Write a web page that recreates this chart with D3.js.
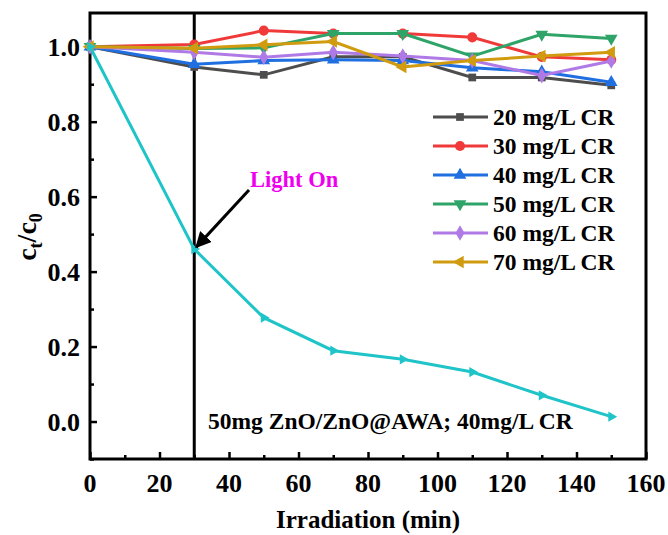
<!DOCTYPE html>
<html lang="en">
<head>
<meta charset="UTF-8">
<script src="https://cdn.jsdelivr.net/npm/d3@7/dist/d3.min.js"></script>
<style>
    body, html { margin: 0; padding: 0; background: #fff; }
    #chart { width: 668px; height: 535px; }
</style>
</head>
<body>
<div id="chart"></div>
<script>
// data
const times = [0, 30, 50, 70, 90, 110, 130, 150]
const seriesNames = ["20 mg/L CR", "30 mg/L CR", "40 mg/L CR", "50 mg/L CR", "60 mg/L CR", "70 mg/L CR"]
const c20 = [1.0, 0.946, 0.925, 0.973, 0.973, 0.918, 0.918, 0.897]
const c30 = [1.0, 1.006, 1.043, 1.035, 1.035, 1.025, 0.973, 0.965]
const c40 = [1.0, 0.953, 0.963, 0.965, 0.963, 0.944, 0.933, 0.905]
const c50 = [1.0, 0.995, 0.997, 1.035, 1.035, 0.975, 1.033, 1.022]
const c60 = [1.0, 0.985, 0.972, 0.985, 0.975, 0.963, 0.923, 0.962]
const c70 = [1.0, 0.996, 1.005, 1.014, 0.946, 0.963, 0.975, 0.985]
const cMain = [1.0, 0.46, 0.277, 0.189, 0.166, 0.132, 0.07, 0.013]
const xTicks = [0, 20, 40, 60, 80, 100, 120, 140, 160]
const yTicks = [0.0, 0.2, 0.4, 0.6, 0.8, 1.0]

const colors = ["#4d4d4d", "#f03a3a", "#1f6fe0", "#2ea468", "#b07ae6", "#d19b10"]
const mainColor = "#1fc4c8"
const serif = "'Liberation Serif', 'Times New Roman', serif"

const svg = d3.select("#chart").append("svg").attr("width", 668).attr("height", 535)

const x = d3.scaleLinear().domain([0, 160]).range([90, 646])
const y = d3.scaleLinear().domain([-0.1, 1.09]).range([459, 13])

// axes with inward ticks
svg.append("g").attr("transform", "translate(0,459)")
    .call(d3.axisTop(x).tickValues(xTicks).tickSize(7).tickFormat(""))
svg.append("g").attr("transform", "translate(0,459)")
    .call(d3.axisTop(x).tickValues(d3.range(10, 160, 20)).tickSize(4).tickFormat(""))
svg.append("g").attr("transform", "translate(90,0)")
    .call(d3.axisRight(y).tickValues(yTicks).tickSize(7).tickFormat(""))
svg.append("g").attr("transform", "translate(90,0)")
    .call(d3.axisRight(y).tickValues([-0.1, 0.1, 0.3, 0.5, 0.7, 0.9]).tickSize(4).tickFormat(""))
svg.selectAll(".tick line").attr("stroke", "#000").attr("stroke-width", 2.5)
svg.selectAll(".domain").remove()

// tick labels
svg.append("g").selectAll("text").data(xTicks).enter().append("text")
    .attr("x", d => x(d)).attr("y", 492).attr("text-anchor", "middle")
    .attr("font-family", serif).attr("font-weight", "bold").attr("font-size", 26)
    .text(d => d)
svg.append("g").selectAll("text").data(yTicks).enter().append("text")
    .attr("x", 80).attr("y", d => y(d) + 9).attr("text-anchor", "end")
    .attr("font-family", serif).attr("font-weight", "bold").attr("font-size", 26)
    .text(d => d.toFixed(1))

// frame
svg.append("rect").attr("x", 90).attr("y", 13).attr("width", 556).attr("height", 446)
    .attr("fill", "none").attr("stroke", "#000").attr("stroke-width", 3)

// axis titles
svg.append("text").attr("x", 368).attr("y", 528).attr("text-anchor", "middle")
    .attr("font-family", serif).attr("font-weight", "bold").attr("font-size", 25)
    .text("Irradiation (min)")
const yl = svg.append("text").attr("transform", "translate(36,237) rotate(-90)").attr("text-anchor", "middle")
    .attr("font-family", serif).attr("font-weight", "bold").attr("font-size", 28)
yl.append("tspan").text("c")
yl.append("tspan").attr("font-size", 18).attr("dy", 6).text("t")
yl.append("tspan").attr("dy", -6).text("/c")
yl.append("tspan").attr("font-size", 18).attr("dy", 6).text("0")

// light-on line
svg.append("line").attr("x1", x(30)).attr("x2", x(30)).attr("y1", 13).attr("y2", 459)
    .attr("stroke", "#000").attr("stroke-width", 3)

// markers
const symbols = [
    { type: d3.symbolSquare, size: 60, rot: 0 },
    { type: d3.symbolCircle, size: 80, rot: 0 },
    { type: d3.symbolTriangle, size: 70, rot: 0 },
    { type: d3.symbolTriangle, size: 70, rot: 180 },
    { type: d3.symbolDiamond, size: 70, rot: 0 },
    { type: d3.symbolTriangle, size: 70, rot: -90 }
]
const line = d3.line().x(d => x(d[0])).y(d => y(d[1]))
const allSeries = [c20, c30, c40, c50, c60, c70]

allSeries.forEach((vals, i) => {
    const pts = times.map((t, j) => [t, vals[j]])
    svg.append("path").datum(pts).attr("d", line).attr("fill", "none")
        .attr("stroke", colors[i]).attr("stroke-width", 3)
    svg.append("g").selectAll("path").data(pts).enter().append("path")
        .attr("d", d3.symbol().type(symbols[i].type).size(symbols[i].size))
        .attr("transform", d => `translate(${x(d[0])},${y(d[1])}) rotate(${symbols[i].rot})`)
        .attr("fill", colors[i])
})

// main photocatalysis series
const mainPts = times.map((t, j) => [t, cMain[j]])
svg.append("path").datum(mainPts).attr("d", line).attr("fill", "none")
    .attr("stroke", mainColor).attr("stroke-width", 3)
svg.append("g").selectAll("path").data(mainPts).enter().append("path")
    .attr("d", d3.symbol().type(d3.symbolTriangle).size(45))
    .attr("transform", d => `translate(${x(d[0])},${y(d[1])}) rotate(90)`)
    .attr("fill", mainColor)

// legend
const lg = svg.append("g")
seriesNames.forEach((name, i) => {
    const ly = 117 + i * 29
    lg.append("line").attr("x1", 433).attr("x2", 488).attr("y1", ly).attr("y2", ly)
        .attr("stroke", colors[i]).attr("stroke-width", 3)
    lg.append("path").attr("d", d3.symbol().type(symbols[i].type).size(symbols[i].size))
        .attr("transform", `translate(460,${ly}) rotate(${symbols[i].rot})`).attr("fill", colors[i])
    lg.append("text").attr("x", 493).attr("y", ly + 8)
        .attr("font-family", serif).attr("font-weight", "bold").attr("font-size", 23.5)
        .text(name)
})

// annotations
svg.append("defs").append("marker").attr("id", "arrow").attr("viewBox", "0 0 10 10")
    .attr("refX", 9).attr("refY", 5).attr("markerWidth", 16).attr("markerHeight", 16)
    .attr("markerUnits", "userSpaceOnUse").attr("orient", "auto")
    .append("path").attr("d", "M0,0 L10,5 L0,10 Z").attr("fill", "#000")
svg.append("line").attr("x1", 249).attr("y1", 190).attr("x2", x(30) + 2).attr("y2", y(0.46) - 2)
    .attr("stroke", "#000").attr("stroke-width", 3).attr("marker-end", "url(#arrow)")
svg.append("text").attr("x", 250).attr("y", 187)
    .attr("font-family", serif).attr("font-weight", "bold").attr("font-size", 22.5)
    .attr("fill", "#ee00ee").text("Light On")
svg.append("text").attr("x", 208).attr("y", 429)
    .attr("font-family", serif).attr("font-weight", "bold").attr("font-size", 23.5)
    .text("50mg ZnO/ZnO@AWA; 40mg/L CR")
</script>
</body>
</html>
